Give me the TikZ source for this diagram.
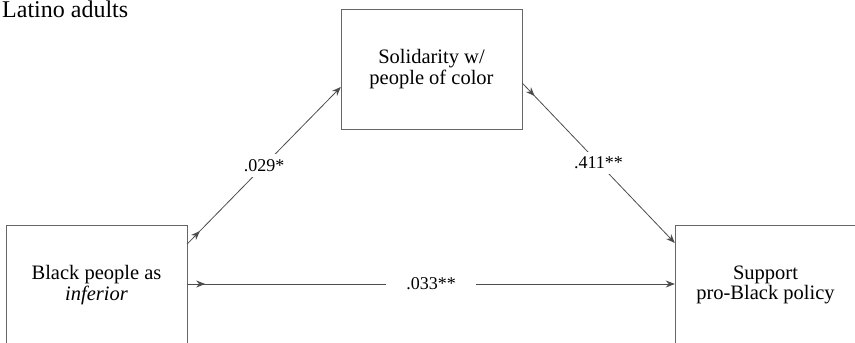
\documentclass[tikz,border=0pt]{standalone}
\usepackage{fontspec}
\setmainfont{Liberation Serif}
\usetikzlibrary{arrows.meta,positioning,decorations.markings}

\begin{document}
\begin{tikzpicture}[x=1pt, y=1pt,
  var/.style={draw=gray!80!black, minimum width=181pt, minimum height=120pt,
    inner sep=0pt, align=center, font=\fontsize{20.5}{20.5}\selectfont},
  edge/.style={draw=gray!60!black, line width=0.8pt, -{Stealth[length=9pt,width=7pt]},
    postaction={decorate}, decoration={markings,
      mark=at position 18pt with {\arrow{Stealth[length=9pt,width=7pt]}}}},
  coef/.style={fill=white, inner sep=5pt, font=\fontsize{18}{20}\selectfont}]
  \useasboundingbox (0,0) rectangle (855,343);
  \clip (0,0) rectangle (855,343);
  % title
  \node[anchor=base west, inner sep=0pt, font=\fontsize{24}{26}\selectfont] (title) at (2,325) {Latino adults};
  % variables
  \node[var] (sol) at (431.5,274) {Solidarity w/\\people of color};
  \node[var] (blk) at (96.5,58) {Black people as\\\textit{inferior}};
  \node[var] (pol) at (765.5,58) {Support\\pro-Black policy};
  % paths
  \draw[edge] ([yshift=41pt]blk.east) -- node[coef] (a) {.029*} ([yshift=-18pt]sol.west);
  \draw[edge] ([yshift=-14pt]sol.east) -- node[coef] (b) {.411**} ([yshift=42pt]pol.west);
  \draw[edge] ([yshift=1pt]blk.east) -- node[coef, inner xsep=20pt] (c) {.033**} ([yshift=1pt]pol.west);
\end{tikzpicture}
\end{document}
